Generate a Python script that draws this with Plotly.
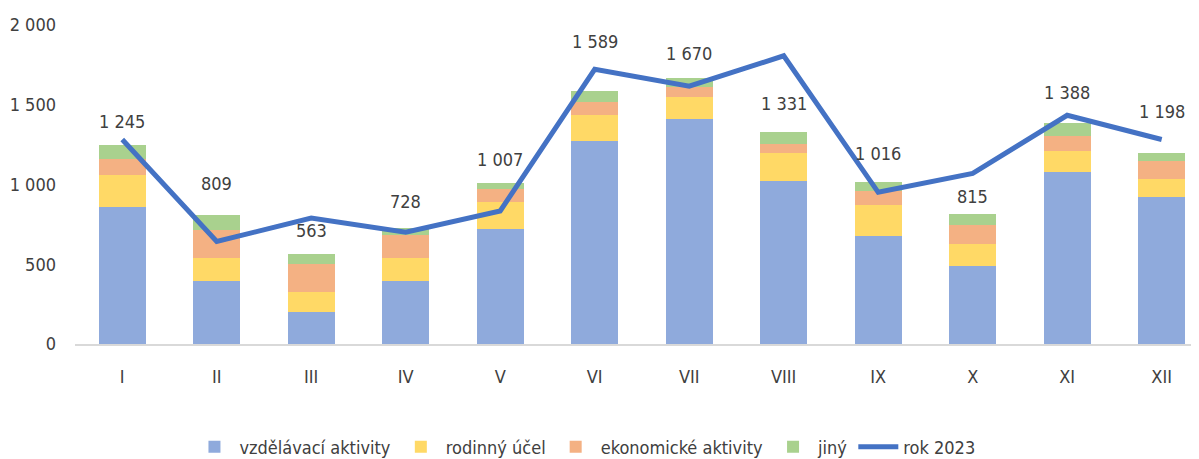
import plotly.graph_objects as go

months = ["I", "II", "III", "IV", "V", "VI", "VII", "VIII", "IX", "X", "XI", "XII"]
vzdelavaci = [861, 397, 203, 392, 722, 1270, 1409, 1022, 680, 489, 1078, 922]
rodinny = [200, 142, 123, 147, 167, 164, 142, 173, 192, 141, 131, 114]
ekonomicke = [100, 177, 173, 145, 81, 83, 58, 62, 89, 117, 94, 109]
jiny = [84, 93, 64, 44, 37, 72, 61, 74, 55, 68, 85, 53]
rok2023 = [1282, 643, 789, 701, 834, 1722, 1616, 1807, 951, 1070, 1434, 1282]
yticks = [0, 500, 1000, 1500, 2000]

totals = [a + b + c + d for a, b, c, d in zip(vzdelavaci, rodinny, ekonomicke, jiny)]
label_shift = [24, 31, 24, 26, 24, 49, 24, 28, 28, 18, 30, 41]

def fmt(v):
    return f"{v:,}".replace(",", " ")

FONT = "DejaVu Sans Condensed, sans-serif"
TXT = "#404040"
FS = 18

fig = go.Figure()
for name, vals, col in [
    ("vzdělávací aktivity", vzdelavaci, "#8FAADC"),
    ("rodinný účel", rodinny, "#FFD966"),
    ("ekonomické aktivity", ekonomicke, "#F4B183"),
    ("jiný", jiny, "#A9D18E"),
]:
    fig.add_trace(go.Bar(x=months, y=vals, name=name, marker=dict(color=col, line=dict(width=0))))

fig.add_trace(go.Scatter(x=months, y=rok2023, name="rok 2023", mode="lines",
                         line=dict(color="#4472C4", width=5)))

for m, t, s in zip(months, totals, label_shift):
    fig.add_annotation(x=m, y=t, text=fmt(t), showarrow=False, yanchor="middle",
                       yshift=s, font=dict(family=FONT, size=FS, color=TXT))

# page body has an 8px default margin, so the figure is sized to fit the window
fig.update_layout(
    width=1191, height=451,
    margin=dict(l=67, r=0, t=16.5, b=114.5, autoexpand=False),
    barmode="stack", bargap=0.5,
    plot_bgcolor="white", paper_bgcolor="white",
    font=dict(family=FONT, size=FS, color=TXT),
    showlegend=True,
    legend=dict(orientation="h", x=0.4537, xanchor="center", y=-0.323, yanchor="middle",
                font=dict(family=FONT, size=FS, color=TXT), traceorder="normal",
                itemwidth=40),
    xaxis=dict(range=[-0.5, 11.395], showline=True, linecolor="#D9D9D9", linewidth=2,
               ticks="", showgrid=False, ticklabelstandoff=15, automargin=False),
    yaxis=dict(range=[0, 2000], tickvals=yticks, ticktext=[fmt(v) for v in yticks],
               showgrid=False, zeroline=False, ticks="", ticklabelstandoff=18,
               showline=False, automargin=False),
)

fig.write_html("out.html")
